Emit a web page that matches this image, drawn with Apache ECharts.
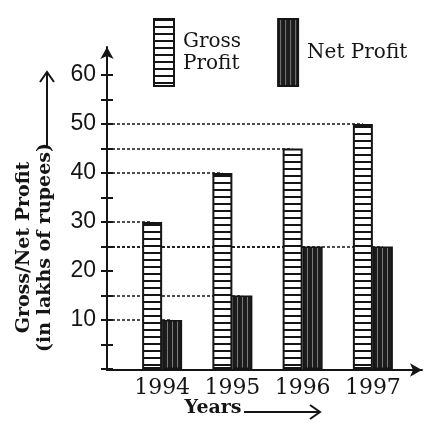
<!DOCTYPE html>
<html>
<head>
<meta charset="utf-8">
<script src="https://cdn.jsdelivr.net/npm/echarts@6/dist/echarts.min.js"></script>
<style>
	html, body { margin: 0; padding: 0; background: #fff; }
	#main { width: 432px; height: 423px; }
</style>
</head>
<body>
<div id="main"></div>
<script>
	// data
	var years = ['1994', '1995', '1996', '1997'];
	var grossProfit = [30, 40, 45, 50];
	var netProfit = [10, 15, 25, 25];
	var yLabels = [10, 20, 30, 40, 50, 60];

	var ink = '#151515';
	var axisX = 107; // where the y axis is drawn (grid left 127 - offset 20)

	// horizontal stripes for gross profit
	function stripePattern() {
		var c = document.createElement('canvas');
		c.width = 4; c.height = 7;
		var ctx = c.getContext('2d');
		ctx.fillStyle = '#fff';
		ctx.fillRect(0, 0, 4, 7);
		ctx.fillStyle = ink;
		ctx.fillRect(0, 0, 4, 2);
		return { image: c, repeat: 'repeat' };
	}
	// dark vertical hatching for net profit
	function hatchPattern() {
		var c = document.createElement('canvas');
		c.width = 5; c.height = 4;
		var ctx = c.getContext('2d');
		ctx.fillStyle = '#1c1c1c';
		ctx.fillRect(0, 0, 5, 4);
		ctx.fillStyle = '#7a7a7a';
		ctx.fillRect(2, 0, 1, 4);
		return { image: c, repeat: 'repeat' };
	}

	function guideLines(values) {
		return values.map(function (v, i) {
			return [{ x: axisX, yAxis: v }, { xAxis: i, yAxis: v }];
		});
	}

	var guide = {
		z: 1,
		silent: true,
		symbol: ['none', 'none'],
		label: { show: false },
		lineStyle: { color: ink, type: [3, 2], width: 1.5 },
		data: []
	};

	var chart = echarts.init(document.getElementById('main'));
	chart.setOption({
		animation: false,
		backgroundColor: '#fff',
		legend: {
			left: 148,
			top: 13,
			itemWidth: 20,
			itemHeight: 67,
			itemGap: 36,
			icon: 'rect',
			formatter: function (name) {
				return name === 'Gross Profit' ? 'Gross\nProfit' : name;
			},
			textStyle: { fontFamily: 'DejaVu Serif', fontSize: 20, lineHeight: 22, color: ink, padding: [0, 0, 0, 4] },
			data: ['Gross Profit', 'Net Profit']
		},
		grid: [
			{ left: 127, width: 281, top: 75, bottom: 53 },
			{ left: axisX, right: 10, top: 47, bottom: 53 }
		],
		xAxis: [
			{
				gridIndex: 0,
				type: 'category',
				data: years,
				axisLine: { show: false },
				axisTick: { show: false },
				axisLabel: { interval: 0, fontFamily: 'DejaVu Serif', fontSize: 22, color: ink, margin: 8 },
				name: 'Years',
				nameLocation: 'middle',
				nameGap: 30,
				nameMoveOverlap: false,
				nameTextStyle: { fontFamily: 'DejaVu Serif', fontWeight: 'bold', fontSize: 19, color: ink, padding: [0, 109, 0, 0] }
			},
			{
				gridIndex: 1,
				type: 'value',
				min: 0,
				max: 1,
				axisLine: { show: true, symbol: ['none', 'arrow'], symbolSize: [10, 12], lineStyle: { color: ink, width: 2 } },
				axisTick: { show: false },
				axisLabel: { show: false },
				splitLine: { show: false }
			}
		],
		yAxis: [
			{
				gridIndex: 0,
				type: 'value',
				position: 'left',
				offset: 20,
				min: 0,
				max: 60,
				interval: 5,
				axisLine: { show: false },
				axisTick: { show: true, inside: false, length: 6, lineStyle: { color: ink, width: 2 } },
				axisLabel: {
					fontFamily: 'Liberation Sans',
					fontSize: 23,
					color: ink,
					margin: 11,
					formatter: function (v) { return yLabels.indexOf(v) >= 0 ? String(v) : ''; }
				},
				splitLine: { show: false },
				name: 'Gross/Net Profit\n(in lakhs of rupees)',
				nameLocation: 'middle',
				nameRotate: 90,
				nameGap: 51,
				nameMoveOverlap: false,
				nameTextStyle: { fontFamily: 'DejaVu Serif', fontWeight: 'bold', fontSize: 19, lineHeight: 21, color: ink, padding: [0, 51, 0, 0] }
			},
			{
				gridIndex: 0,
				type: 'value',
				position: 'left',
				offset: 20,
				min: 0,
				max: 60,
				interval: 5,
				axisLine: { show: false },
				axisTick: { show: true, inside: true, length: 6, lineStyle: { color: ink, width: 2 } },
				axisLabel: { show: false },
				splitLine: { show: false }
			},
			{
				gridIndex: 1,
				type: 'value',
				min: 0,
				max: 1,
				axisLine: { show: true, symbol: ['none', 'arrow'], symbolSize: [10, 12], lineStyle: { color: ink, width: 2 } },
				axisTick: { show: false },
				axisLabel: { show: false },
				splitLine: { show: false }
			}
		],
		series: [
			{
				name: 'Gross Profit',
				type: 'bar',
				xAxisIndex: 0,
				yAxisIndex: 0,
				z: 3,
				barWidth: 20,
				barGap: '0%',
				itemStyle: { color: stripePattern(), borderColor: ink, borderWidth: 2 },
				markLine: Object.assign({}, guide, { data: guideLines(grossProfit) }),
				data: grossProfit
			},
			{
				name: 'Net Profit',
				type: 'bar',
				xAxisIndex: 0,
				yAxisIndex: 0,
				z: 3,
				barWidth: 20,
				barGap: '0%',
				itemStyle: { color: hatchPattern(), borderColor: ink, borderWidth: 1.5 },
				markLine: Object.assign({}, guide, { data: guideLines(netProfit) }),
				data: netProfit
			}
		],
		graphic: [
			// arrow after "Years"
			{ type: 'line', shape: { x1: 244, y1: 412, x2: 319, y2: 412 }, style: { stroke: ink, lineWidth: 2 } },
			{ type: 'polyline', shape: { points: [[310, 405], [320, 412], [310, 419]] }, style: { stroke: ink, lineWidth: 2, fill: null } },
			// arrow above the y axis title
			{ type: 'line', shape: { x1: 47, y1: 146, x2: 47, y2: 73 }, style: { stroke: ink, lineWidth: 2 } },
			{ type: 'polyline', shape: { points: [[40, 82], [47, 72], [54, 82]] }, style: { stroke: ink, lineWidth: 2, fill: null } }
		]
	});
</script>
</body>
</html>
